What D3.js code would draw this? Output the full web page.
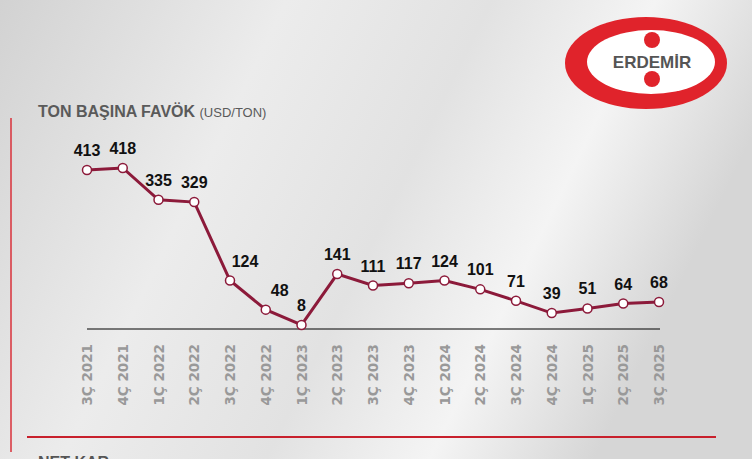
<!DOCTYPE html><html><head><meta charset="utf-8"><script src="https://d3js.org/d3.v7.min.js"></script>
<style>body{margin:0}svg{display:block}</style></head><body><script>
const categories=["3Ç 2021","4Ç 2021","1Ç 2022","2Ç 2022","3Ç 2022","4Ç 2022","1Ç 2023","2Ç 2023","3Ç 2023","4Ç 2023","1Ç 2024","2Ç 2024","3Ç 2024","4Ç 2024","1Ç 2025","2Ç 2025","3Ç 2025"];
const values=[413,418,335,329,124,48,8,141,111,117,124,101,71,39,51,64,68];
const W=752,H=459;
const svg=d3.select("body").append("svg").attr("width",W).attr("height",H);
const defs=svg.append("defs");
const g=defs.append("linearGradient").attr("id","bg").attr("x1",0).attr("y1",0).attr("x2",1).attr("y2",0.3);
[[0,"#d2d2d2"],[0.35,"#ececec"],[0.6,"#e2e2e2"],[0.8,"#f4f4f4"],[1,"#d6d6d6"]].forEach(s=>g.append("stop").attr("offset",s[0]).attr("stop-color",s[1]));
svg.append("rect").attr("width",W).attr("height",H).attr("fill","url(#bg)");
svg.append("line").attr("x1",11).attr("x2",11).attr("y1",118).attr("y2",452).attr("stroke","#d9303a").attr("stroke-width",1.5);
svg.append("line").attr("x1",27).attr("x2",716).attr("y1",437).attr("y2",437).attr("stroke","#c8202c").attr("stroke-width",2);
svg.append("text").attr("x",38).attr("y",468).attr("font-family","Liberation Sans, Arial").attr("font-weight","bold").attr("font-size",16).attr("fill","#555").text("NET KAR");
const t=svg.append("text").attr("x",38).attr("y",117).attr("font-family","Liberation Sans, Arial").attr("fill","#5a5a5a");
t.append("tspan").attr("font-weight","bold").attr("font-size",16).text("TON BAŞINA FAVÖK ");
t.append("tspan").attr("font-size",13).text("(USD/TON)");
const lg=svg.append("g");
lg.append("ellipse").attr("cx",646).attr("cy",63).attr("rx",81).attr("ry",46).attr("fill","#e0232b");
lg.append("ellipse").attr("cx",651).attr("cy",62).attr("rx",64).attr("ry",32).attr("fill","#fff");
lg.append("circle").attr("cx",652).attr("cy",40).attr("r",8).attr("fill","#e0232b");
lg.append("circle").attr("cx",652).attr("cy",79).attr("r",8).attr("fill","#e0232b");
lg.append("text").attr("x",652).attr("y",68).attr("text-anchor","middle").attr("font-family","Liberation Sans, Arial").attr("font-weight","bold").attr("font-size",17).attr("fill","#555").text("ERDEMİR");
const x=d3.scalePoint().domain(categories).range([87,659]);
const y=d3.scaleLinear().domain([0,418]).range([328,168]);
svg.append("line").attr("x1",87).attr("x2",660).attr("y1",329).attr("y2",329).attr("stroke","#000").attr("stroke-width",1);
const ax=svg.append("g").attr("transform","translate(0,341)").call(d3.axisBottom(x).tickSize(0).tickPadding(0));
ax.select(".domain").remove();
ax.selectAll("text").attr("transform","rotate(-90)").attr("text-anchor","end").attr("dx",-3).attr("dy","0.35em").attr("x",0).attr("y",0)
 .attr("font-family","DejaVu Sans, Verdana").attr("font-weight","bold").attr("font-size",13.5).attr("fill","#999");
svg.append("path").datum(values).attr("fill","none").attr("stroke","#8c1a3a").attr("stroke-width",3)
 .attr("d",d3.line().x((d,i)=>x(categories[i])).y(d=>y(d)));
svg.selectAll("circle.p").data(values).join("circle").attr("class","p").attr("cx",(d,i)=>x(categories[i])).attr("cy",d=>y(d)).attr("r",4.5).attr("fill","#fff").attr("stroke","#8c1a3a").attr("stroke-width",1.5);
const shift=[0,0,0,0,15,14,0,0,0,0,0,0,0,0,0,0,0];
svg.selectAll("text.v").data(values).join("text").attr("class","v").attr("x",(d,i)=>x(categories[i])+shift[i]).attr("y",d=>y(d)-14).attr("text-anchor","middle")
 .attr("font-family","Liberation Sans, Arial").attr("font-weight","bold").attr("font-size",16).attr("fill","#111").text(d=>d);
</script></body></html>
